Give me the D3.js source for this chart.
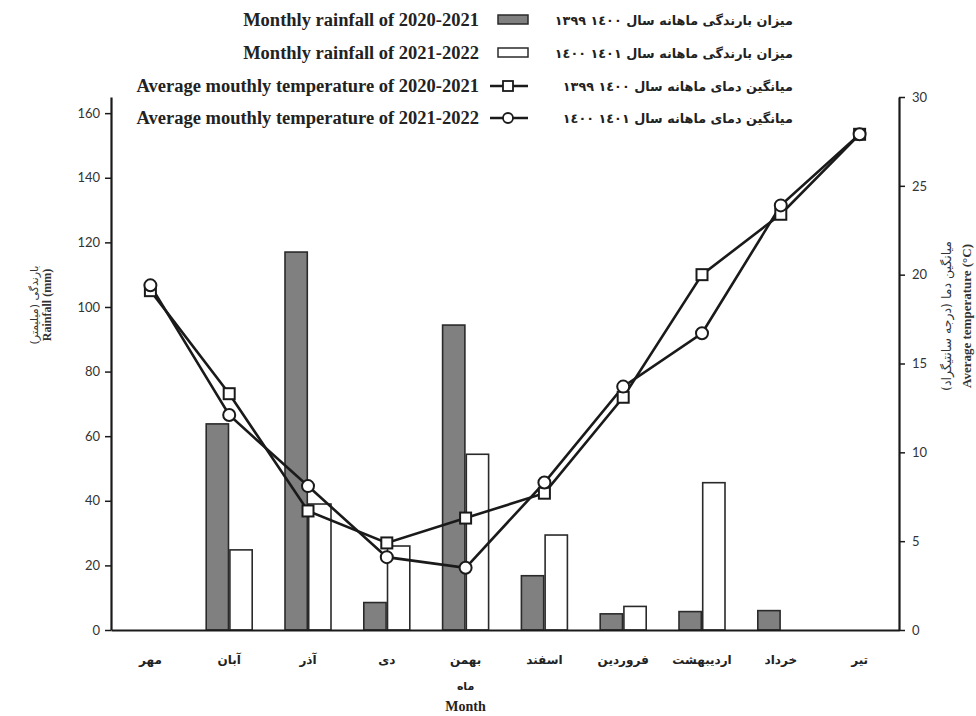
<!DOCTYPE html>
<html>
<head>
<meta charset="utf-8">
<script src="https://cdn.jsdelivr.net/npm/d3@7"></script>
<style>
  body { margin: 0; background: #fff; }
  svg { display: block; }
</style>
</head>
<body>
<div id="chart"></div>
<script>
// months (Persian calendar, مهر to تیر)
const months = ['مهر', 'آبان', 'آذر', 'دی', 'بهمن', 'اسفند', 'فروردین', 'اردیبهشت', 'خرداد', 'تیر'];

// monthly rainfall (mm)
const rain2020 = [0, 63.8, 117, 8.5, 94.4, 16.8, 5.0, 5.7, 6.0, 0];
const rain2021 = [0, 24.8, 39, 26, 54.4, 29.4, 7.3, 45.6, 0, 0];

// average monthly temperature (°C)
const temp2020 = [19.1, 13.3, 6.7, 4.9, 6.3, 7.7, 13.1, 20.0, 23.4, 27.9];
const temp2021 = [19.4, 12.1, 8.1, 4.1, 3.5, 8.3, 13.7, 16.7, 23.9, 27.9];

const rainTicks = [0, 20, 40, 60, 80, 100, 120, 140, 160];
const tempTicks = [0, 5, 10, 15, 20, 25, 30];

const legendItems = [
  { en: 'Monthly rainfall of 2020-2021', fa: 'میزان بارندگی ماهانه سال ١٤٠٠ ١٣٩٩', kind: 'bar', fill: '#808080' },
  { en: 'Monthly rainfall of 2021-2022', fa: 'میزان بارندگی ماهانه سال ١٤٠١ ١٤٠٠', kind: 'bar', fill: '#fff' },
  { en: 'Average mouthly temperature of 2020-2021', fa: 'میانگین دمای ماهانه سال ١٤٠٠ ١٣٩٩', kind: 'square' },
  { en: 'Average mouthly temperature of 2021-2022', fa: 'میانگین دمای ماهانه سال ١٤٠١ ١٤٠٠', kind: 'circle' },
];

const W = 976, H = 716;
const margin = { top: 97, right: 77, bottom: 86, left: 111 };
const faFont = '"DejaVu Sans", sans-serif';
const enFont = '"Liberation Serif", "Times New Roman", serif';
const tickFont = 'Lato, "Open Sans", sans-serif';
const ink = '#1a1a1a';

const svg = d3.select('#chart').append('svg').attr('width', W).attr('height', H);

const x = d3.scaleBand().domain(months).range([margin.left, W - margin.right]).padding(0);
const yRain = d3.scaleLinear().domain([0, 165]).range([H - margin.bottom, margin.top]);
const yTemp = d3.scaleLinear().domain([0, 30]).range([H - margin.bottom, margin.top]);
const xSub = d3.scaleBand().domain(['a', 'b']).range([-23, 23]).paddingInner(0.06);

// bars
const barData = [];
months.forEach((m, i) => {
  barData.push({ m, key: 'a', v: rain2020[i], fill: '#808080' });
  barData.push({ m, key: 'b', v: rain2021[i], fill: '#fff' });
});

svg.append('g')
  .selectAll('rect')
  .data(barData.filter(d => d.v > 0))
  .join('rect')
  .attr('x', d => x(d.m) + x.bandwidth() / 2 + xSub(d.key))
  .attr('width', xSub.bandwidth())
  .attr('y', d => yRain(d.v))
  .attr('height', d => yRain(0) - yRain(d.v))
  .attr('fill', d => d.fill)
  .attr('stroke', '#2a2a2a')
  .attr('stroke-width', 1.6);

// axes
const axisLeft = svg.append('g')
  .attr('transform', `translate(${margin.left},0)`)
  .call(d3.axisLeft(yRain).tickValues(rainTicks).tickSize(6).tickSizeOuter(0).tickPadding(5));

const axisRight = svg.append('g')
  .attr('transform', `translate(${W - margin.right},0)`)
  .call(d3.axisRight(yTemp).tickValues(tempTicks).tickSize(6).tickSizeOuter(0).tickPadding(7));

const axisBottom = svg.append('g')
  .attr('transform', `translate(0,${H - margin.bottom})`)
  .call(d3.axisBottom(x).tickSize(0).tickSizeOuter(0).tickPadding(25));

[axisLeft, axisRight, axisBottom].forEach(g => {
  g.select('.domain').attr('stroke', ink).attr('stroke-width', 2.2);
  g.selectAll('.tick line').attr('stroke', ink).attr('stroke-width', 1.5);
});
[axisLeft, axisRight].forEach(g => {
  g.selectAll('.tick text').attr('font-family', tickFont).attr('font-size', 13).attr('fill', '#333');
});
axisBottom.selectAll('.tick text')
  .attr('font-family', faFont).attr('font-size', 12).attr('font-weight', 'bold').attr('fill', '#222');

// temperature lines
const line = d3.line().x((d, i) => x(months[i]) + x.bandwidth() / 2).y(d => yTemp(d));
[temp2020, temp2021].forEach(s => {
  svg.append('path').datum(s).attr('d', line)
    .attr('fill', 'none').attr('stroke', ink).attr('stroke-width', 2.6);
});

svg.append('g').selectAll('rect')
  .data(temp2020)
  .join('rect')
  .attr('x', (d, i) => x(months[i]) + x.bandwidth() / 2 - 5.5)
  .attr('y', d => yTemp(d) - 5.5)
  .attr('width', 11).attr('height', 11)
  .attr('fill', '#fff').attr('stroke', ink).attr('stroke-width', 2);

svg.append('g').selectAll('circle')
  .data(temp2021)
  .join('circle')
  .attr('cx', (d, i) => x(months[i]) + x.bandwidth() / 2)
  .attr('cy', d => yTemp(d))
  .attr('r', 6)
  .attr('fill', '#fff').attr('stroke', ink).attr('stroke-width', 2);

// axis titles
const leftTitle = svg.append('g').attr('transform', `translate(38,305) rotate(-90)`);
leftTitle.append('text').attr('text-anchor', 'middle').attr('direction', 'rtl')
  .attr('font-family', faFont).attr('font-size', 11).attr('fill', '#333')
  .text('بارندگی (میلیمتر)');
leftTitle.append('text').attr('y', 13).attr('text-anchor', 'middle')
  .attr('font-family', enFont).attr('font-weight', 'bold').attr('font-size', 12).attr('fill', '#333')
  .text('Rainfall (mm)');

const rightTitle = svg.append('g').attr('transform', `translate(951,316) rotate(-90)`);
rightTitle.append('text').attr('text-anchor', 'middle').attr('direction', 'rtl')
  .attr('font-family', faFont).attr('font-size', 12.5).attr('fill', '#333')
  .text('میانگین دما (درجه سانتیگراد)');
rightTitle.append('text').attr('y', 20).attr('text-anchor', 'middle')
  .attr('font-family', enFont).attr('font-weight', 'bold').attr('font-size', 13).attr('fill', '#333')
  .text('Average temperature (°C)');

svg.append('text').attr('x', x('بهمن') + x.bandwidth() / 2).attr('y', 690)
  .attr('text-anchor', 'middle').attr('font-family', faFont).attr('font-weight', 'bold')
  .attr('font-size', 11).attr('fill', '#222').text('ماه');
svg.append('text').attr('x', x('بهمن') + x.bandwidth() / 2).attr('y', 711)
  .attr('text-anchor', 'middle').attr('font-family', enFont).attr('font-weight', 'bold')
  .attr('font-size', 14).attr('fill', '#222').text('Month');

// legend
const rowY = [20, 53, 86, 118];
const legend = svg.append('g');
legendItems.forEach((it, i) => {
  const g = legend.append('g').attr('transform', `translate(0,${rowY[i]})`);
  g.append('text').attr('x', 479).attr('y', 5.5).attr('text-anchor', 'end')
    .attr('font-family', enFont).attr('font-weight', 'bold').attr('font-size', 18.5).attr('fill', '#222')
    .text(it.en);
  if (it.kind === 'bar') {
    g.append('rect').attr('x', 498).attr('y', -5).attr('width', 30).attr('height', 9)
      .attr('fill', it.fill).attr('stroke', '#2a2a2a').attr('stroke-width', 1.5);
  } else {
    g.append('line').attr('x1', 490).attr('x2', 528).attr('y1', 0).attr('y2', 0)
      .attr('stroke', ink).attr('stroke-width', 2.6);
    if (it.kind === 'square') {
      g.append('rect').attr('x', 503).attr('y', -5).attr('width', 10).attr('height', 10)
        .attr('fill', '#fff').attr('stroke', ink).attr('stroke-width', 1.8);
    } else {
      g.append('circle').attr('cx', 508).attr('cy', 0).attr('r', 5)
        .attr('fill', '#fff').attr('stroke', ink).attr('stroke-width', 1.8);
    }
  }
  g.append('text').attr('x', 793).attr('y', 5).attr('text-anchor', 'start').attr('direction', 'rtl')
    .attr('font-family', faFont).attr('font-weight', 'bold').attr('font-size', 12.8).attr('fill', '#222')
    .text(it.fa);
});
</script>
</body>
</html>
